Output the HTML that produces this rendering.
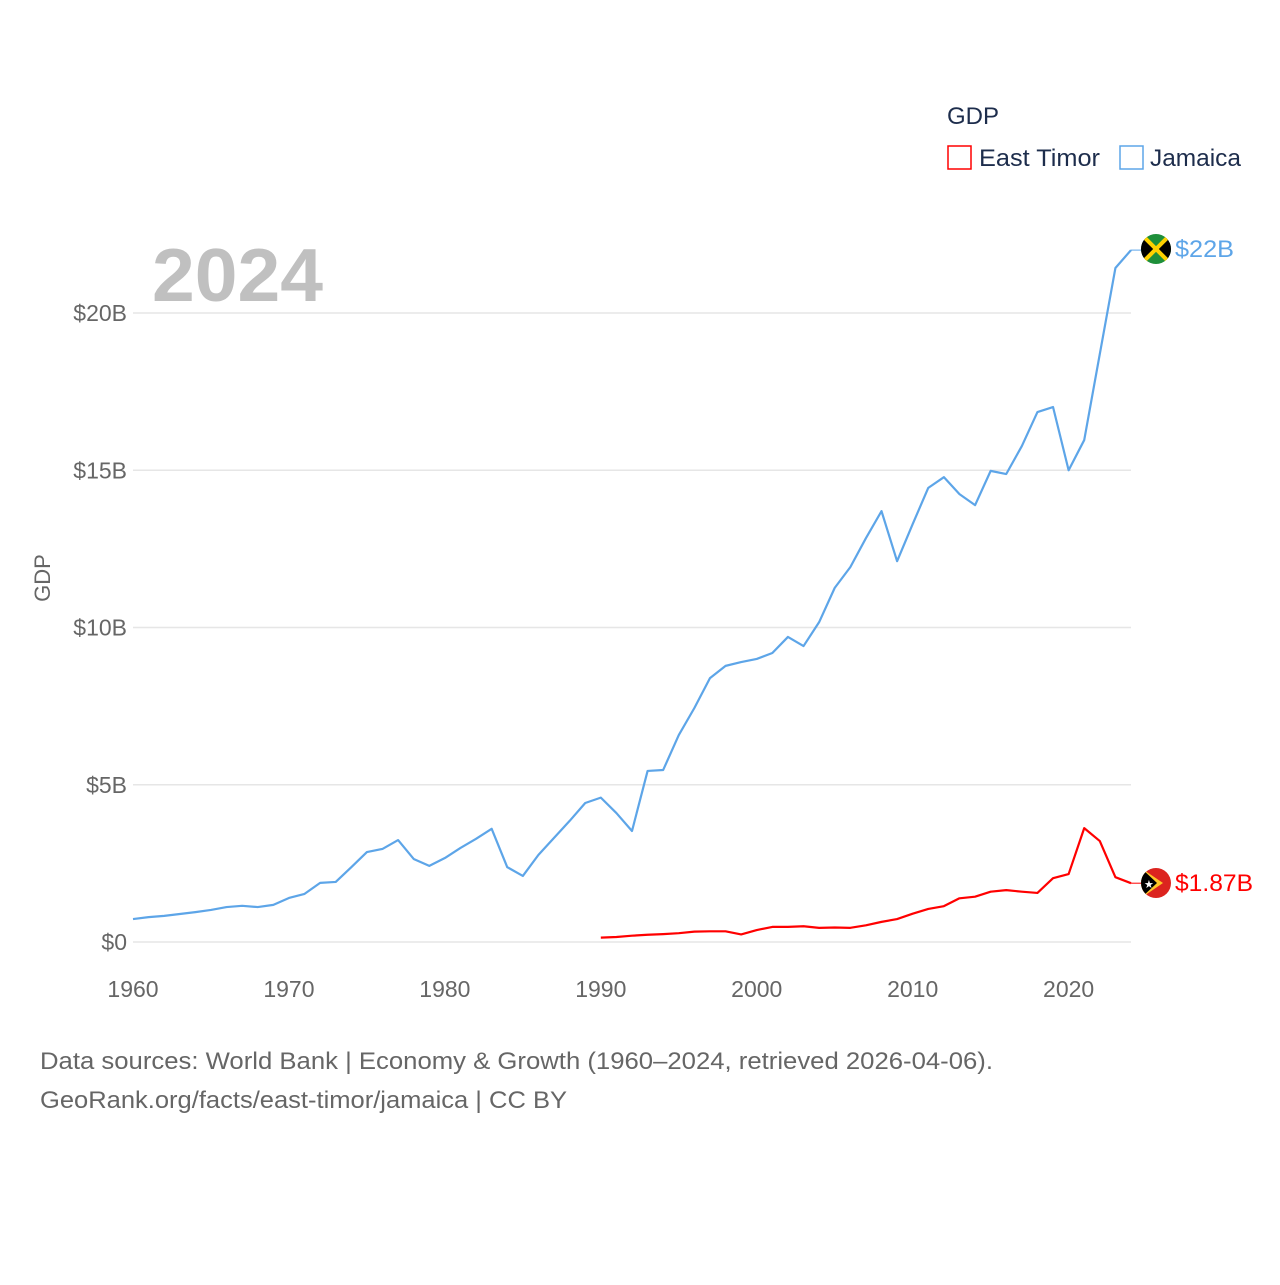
<!DOCTYPE html>
<html><head><meta charset="utf-8"><style>
html,body{margin:0;padding:0;background:#fff;}
svg text{font-family:"Liberation Sans",sans-serif;}
</style></head><body>
<svg id="chart" width="1280" height="1280" xmlns="http://www.w3.org/2000/svg">
<rect width="1280" height="1280" fill="#fff"/>
<text x="152" y="301" font-size="75" font-weight="bold" fill="#c0c0c0" textLength="171" lengthAdjust="spacingAndGlyphs">2024</text>
<g id="grid"></g>
<g id="lines"></g>
<text transform="translate(50,578) rotate(-90)" text-anchor="middle" font-size="22" fill="#666">GDP</text>
<text x="947" y="124" font-size="24" fill="#1d2d4c">GDP</text>
<rect x="948" y="146" width="23" height="23" fill="none" stroke="#ff0000" stroke-width="1.5"/>
<text x="979" y="166" font-size="24" fill="#1d2d4c" textLength="121" lengthAdjust="spacingAndGlyphs">East Timor</text>
<rect x="1120" y="146" width="23" height="23" fill="none" stroke="#5da5e8" stroke-width="1.5"/>
<text x="1150" y="166" font-size="24" fill="#1d2d4c" textLength="91" lengthAdjust="spacingAndGlyphs">Jamaica</text>
<g>
<clipPath id="cj"><circle cx="1156" cy="249" r="15"/></clipPath>
<g clip-path="url(#cj)"><rect x="1141" y="234" width="30" height="30" fill="#1e8f3a"/>
<polygon points="1141,234 1156,249 1141,264" fill="#000"/><polygon points="1171,234 1156,249 1171,264" fill="#000"/>
<line x1="1141" y1="234" x2="1171" y2="264" stroke="#fed100" stroke-width="4"/><line x1="1171" y1="234" x2="1141" y2="264" stroke="#fed100" stroke-width="4"/></g></g>
<g>
<clipPath id="ct"><circle cx="1156" cy="883" r="15"/></clipPath>
<g clip-path="url(#ct)"><rect x="1141" y="868" width="30" height="30" fill="#dc241f"/>
<polygon points="1141,868 1163,883 1141,898" fill="#ffc726"/><polygon points="1141,868 1157,883 1141,898" fill="#000"/>
<text x="1144" y="888" font-size="11" fill="#fff">★</text></g></g>
<text x="1175" y="257" font-size="24" fill="#5da5e8" textLength="59" lengthAdjust="spacingAndGlyphs">$22B</text>
<text x="1175" y="891" font-size="24" fill="#ff0000" textLength="78" lengthAdjust="spacingAndGlyphs">$1.87B</text>
<text x="40" y="1069" font-size="24" fill="#666" textLength="953" lengthAdjust="spacingAndGlyphs">Data sources: World Bank | Economy &amp; Growth (1960–2024, retrieved 2026-04-06).</text>
<text x="40" y="1108" font-size="24" fill="#666" textLength="527" lengthAdjust="spacingAndGlyphs">GeoRank.org/facts/east-timor/jamaica | CC BY</text>
</svg>
<script>
const jamaicaYears=[1960,1961,1962,1963,1964,1965,1966,1967,1968,1969,1970,1971,1972,1973,1974,1975,1976,1977,1978,1979,1980,1981,1982,1983,1984,1985,1986,1987,1988,1989,1990,1991,1992,1993,1994,1995,1996,1997,1998,1999,2000,2001,2002,2003,2004,2005,2006,2007,2008,2009,2010,2011,2012,2013,2014,2015,2016,2017,2018,2019,2020,2021,2022,2023,2024];
const jamaicaGdp=[0.73,0.79,0.83,0.89,0.95,1.02,1.11,1.15,1.11,1.18,1.40,1.53,1.88,1.91,2.38,2.86,2.96,3.24,2.64,2.42,2.67,2.99,3.28,3.60,2.38,2.10,2.77,3.31,3.85,4.42,4.59,4.10,3.53,5.44,5.47,6.58,7.44,8.39,8.78,8.90,9.00,9.19,9.70,9.41,10.17,11.26,11.92,12.84,13.70,12.11,13.29,14.44,14.78,14.24,13.89,14.98,14.88,15.77,16.85,17.01,15.00,15.96,18.70,21.43,22.00];
const timorYears=[1990,1991,1992,1993,1994,1995,1996,1997,1998,1999,2000,2001,2002,2003,2004,2005,2006,2007,2008,2009,2010,2011,2012,2013,2014,2015,2016,2017,2018,2019,2020,2021,2022,2023,2024];
const timorGdp=[0.14,0.16,0.20,0.23,0.25,0.28,0.33,0.34,0.34,0.24,0.38,0.48,0.48,0.50,0.45,0.46,0.45,0.53,0.64,0.73,0.90,1.05,1.14,1.39,1.44,1.60,1.65,1.60,1.56,2.03,2.16,3.62,3.21,2.06,1.87];
const yTicks=[0,5,10,15,20];
const yTickLabels=["$0","$5B","$10B","$15B","$20B"];
const xTicks=[1960,1970,1980,1990,2000,2010,2020];
const NS="http://www.w3.org/2000/svg";
const xs=y=>133+(y-1960)*(1131-133)/64;
const ys=v=>942-v*(942-313)/20;
const grid=document.getElementById('grid'),lines=document.getElementById('lines');
yTicks.forEach((t,i)=>{
 const l=document.createElementNS(NS,'line');
 
 
 l.setAttribute('x1',133);l.setAttribute('x2',1131);l.setAttribute('y1',ys(t));l.setAttribute('y2',ys(t));
 l.setAttribute('stroke','#e6e6e6');l.setAttribute('stroke-width','1.5');grid.appendChild(l);
 const tx=document.createElementNS(NS,'text');
 
 
 tx.setAttribute('x',127);tx.setAttribute('y',ys(t)+8);tx.setAttribute('text-anchor','end');
 tx.setAttribute('font-size','23');tx.setAttribute('fill','#666');tx.textContent=yTickLabels[i];grid.appendChild(tx);
});
xTicks.forEach(t=>{
 const tx=document.createElementNS(NS,'text');
 
 
 tx.setAttribute('x',xs(t));tx.setAttribute('y',997);tx.setAttribute('text-anchor','middle');
 tx.setAttribute('font-size','23');tx.setAttribute('fill','#666');tx.textContent=t;grid.appendChild(tx);
});
function drawLine(years,vals,color,name){
 const p=document.createElementNS(NS,'polyline');
 
 
 p.setAttribute('points',years.map((y,i)=>xs(y)+','+ys(vals[i])).join(' '));
 p.setAttribute('fill','none');p.setAttribute('stroke',color);p.setAttribute('stroke-width','2.2');
 p.setAttribute('stroke-linejoin','round');lines.appendChild(p);
 const c=document.createElementNS(NS,'line');
 
 
 const ly=ys(vals[vals.length-1]);
 c.setAttribute('x1',xs(years[years.length-1]));c.setAttribute('x2',1142);c.setAttribute('y1',ly);c.setAttribute('y2',ly);
 c.setAttribute('stroke',color);c.setAttribute('stroke-width','1');lines.appendChild(c);
}
drawLine(jamaicaYears,jamaicaGdp,'#5da5e8','jamaica-line');
drawLine(timorYears,timorGdp,'#ff0000','east-timor-line');
</script>
</body></html>
